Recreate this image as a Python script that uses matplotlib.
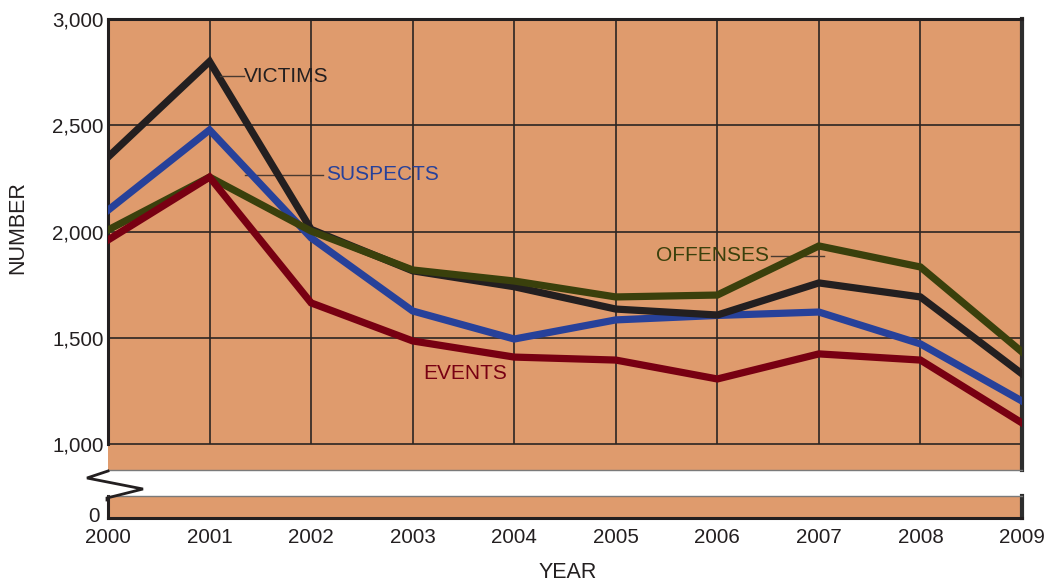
import matplotlib
matplotlib.use("Agg")
import matplotlib.pyplot as plt
from matplotlib.lines import Line2D

plt.rcParams['font.family'] = ['Liberation Sans', 'DejaVu Sans']

years = [2000, 2001, 2002, 2003, 2004, 2005, 2006, 2007, 2008, 2009]
victims = [2350, 2800, 2010, 1815, 1740, 1635, 1607, 1758, 1692, 1330]
suspects = [2100, 2478, 1970, 1626, 1494, 1584, 1605, 1621, 1471, 1202]
offenses = [2007, 2256, 2002, 1819, 1767, 1692, 1701, 1932, 1833, 1433]
events = [1960, 2256, 1664, 1485, 1409, 1395, 1306, 1424, 1395, 1099]
ytick_vals = [1000, 1500, 2000, 2500, 3000]
ytick_labels = ['1,000', '1,500', '2,000', '2,500', '3,000']

W, H = 1050, 586
BG = '#DF9B6D'
C_VIC = '#231F20'
C_SUS = '#27419A'
C_OFF = '#3A400C'
C_EVT = '#780012'
GRID = '#2B2522'

fig = plt.figure(figsize=(W / 100, H / 100), dpi=100)

def fx(px):
    return px / W

def fy(py):
    return 1 - py / H

L, R, T, B = 108, 1022, 19, 470
ax = fig.add_axes([fx(L), fy(B), fx(R - L), (B - T) / H])
ax.set_facecolor(BG)
ppu = (444 - 19) / 2000.0
ybot = 1000 - (B - 444) / ppu
ax.set_xlim(2000, 2009)
ax.set_ylim(ybot, 3000)

for v in ytick_vals[:-1]:
    ax.axhline(v, color=GRID, lw=1.2, zorder=1)
ax.vlines(years[1:-1], 1000, 3000, color=GRID, lw=1.2, zorder=1)

lw = 5.2
ax.plot(years, suspects, color=C_SUS, lw=lw, solid_joinstyle='miter', zorder=3)
ax.plot(years, victims, color=C_VIC, lw=lw, solid_joinstyle='miter', zorder=4)
ax.plot(years, offenses, color=C_OFF, lw=lw, solid_joinstyle='miter', zorder=5)
ax.plot(years, events, color=C_EVT, lw=lw, solid_joinstyle='miter', zorder=6)

TFS = 14.8
ax.set_yticks(ytick_vals)
ax.set_yticklabels(ytick_labels)
ax.set_xticks([])
ax.tick_params(axis='y', length=0, labelsize=TFS, pad=3, colors='#231F20')
ax.spines['left'].set_bounds(1000, 3000)
ax.spines['left'].set_linewidth(2.2)
ax.spines['left'].set_color('#231F20')
ax.spines['top'].set_linewidth(2.2)
ax.spines['top'].set_color('#231F20')
ax.spines['right'].set_linewidth(3)
ax.spines['right'].set_color('#2D2D2D')
ax.spines['bottom'].set_linewidth(1)
ax.spines['bottom'].set_color('#7A7A7A')

# series labels with leader lines
fs_lab = 15
ax.text(2001.34, 2730, 'VICTIMS', color=C_VIC, fontsize=fs_lab, va='center', ha='left')
ax.plot([2001.1, 2001.34], [2730, 2730], color='#4A3A30', lw=1.0, zorder=7)
ax.text(2002.15, 2268, 'SUSPECTS', color=C_SUS, fontsize=fs_lab, va='center', ha='left')
ax.plot([2001.35, 2002.12], [2268, 2268], color='#4A3A30', lw=1.0, zorder=2)
ax.text(2005.4, 1887, 'OFFENSES', color=C_OFF, fontsize=fs_lab, va='center', ha='left')
ax.plot([2006.53, 2007.05], [1887, 1887], color='#4A3A30', lw=1.0, zorder=2)
ax.text(2003.1, 1330, 'EVENTS', color=C_EVT, fontsize=fs_lab, va='center', ha='left')

# lower strip (zero)
B2T, B2B = 496, 518
ax2 = fig.add_axes([fx(L), fy(B2B), fx(R - L), (B2B - B2T) / H])
ax2.set_facecolor(BG)
ax2.set_xlim(2000, 2009)
ax2.set_ylim(-20, 100)
ax2.set_yticks([0])
ax2.set_yticklabels(['0'])
ax2.set_xticks(years)
ax2.set_xticklabels([str(y) for y in years])
ax2.tick_params(length=0, labelsize=TFS, colors='#231F20')
ax2.tick_params(axis='y', pad=6)
ax2.tick_params(axis='x', pad=7)
for s in ['left', 'bottom']:
    ax2.spines[s].set_linewidth(2.2)
    ax2.spines[s].set_color('#231F20')
ax2.spines['right'].set_linewidth(3)
ax2.spines['right'].set_color('#2D2D2D')
ax2.spines['top'].set_linewidth(1)
ax2.spines['top'].set_color('#7A7A7A')

# break zigzag
zx = [108, 87, 143, 107, 107]
zy = [471, 478, 489, 498, 500]
fig.add_artist(Line2D([fx(v) for v in zx], [fy(v) for v in zy], color='#231F20', lw=2.0,
                      solid_joinstyle='miter'))

fig.text(fx(18), fy(228), 'NUMBER', rotation=90, fontsize=15.5, ha='center', va='center', color='#231F20')
fig.text(fx(568), fy(572), 'YEAR', fontsize=15.5, ha='center', va='center', color='#231F20')

fig.savefig('out.png', dpi=100)
